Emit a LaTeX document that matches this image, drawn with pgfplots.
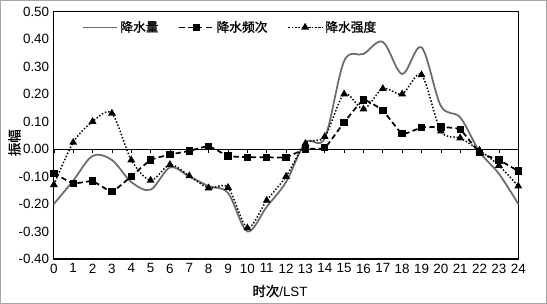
\documentclass[border=0pt]{standalone}
\usepackage{pgfplots}
\pgfplotsset{compat=1.18}
\usepackage{fontspec}
\setmainfont{Liberation Sans}
\newfontfamily\cjk{Noto Sans CJK SC}[FakeBold=1.2]
\begin{document}
\begin{tikzpicture}
\begin{axis}[
  name=ax,
  scale only axis,
  width=346.5pt, height=184.5pt,
  xmin=0, xmax=24, ymin=-0.4, ymax=0.5,
  xtick={0,...,24},
  ytick={-0.4,-0.3,...,0.5},
  major tick length=0pt,
  /pgf/number format/assume math mode=true,
  yticklabel style={/pgf/number format/.cd,fixed,fixed zerofill,precision=2},
  ticklabel style={font=\fontsize{10}{12}\selectfont},
  axis line style={black, line width=0.9pt},
  legend style={at={(0.052,0.985)}, anchor=north west, draw=none, fill=none,
    legend columns=3, font=\cjk\fontsize{9.5}{12}\selectfont,
    /tikz/every even column/.append style={column sep=13pt}},
  legend image code/.code={\draw[mark repeat=2,mark phase=2,#1] plot coordinates {(0cm,0cm) (0.44cm,0cm) (0.88cm,0cm)};},
  clip=false,
]
\draw[black, line width=0.6pt] (axis cs:0,0) -- (axis cs:24,0);
\pgfplotsinvokeforeach{0,...,24}{\draw[black, line width=0.5pt] (axis cs:#1,0) -- ([yshift=-3pt]axis cs:#1,0);}
\addplot[color=black!58, line width=1.3pt, smooth, tension=0.55, no markers] coordinates {
(0,-0.20) (1,-0.115) (2,-0.025) (3,-0.04) (4,-0.12) (5,-0.148) (6,-0.067) (7,-0.10)
(8,-0.135) (9,-0.16) (10,-0.30) (11,-0.21) (12,-0.12) (13,0.024) (14,0.04) (15,0.32)
(16,0.346) (17,0.39) (18,0.273) (19,0.37) (20,0.157) (21,0.115) (22,-0.01) (23,-0.09) (24,-0.20)};
\addlegendentry{降水量}
\addplot[color=black, line width=1.3pt, dash pattern=on 4pt off 2.5pt, smooth, tension=0.25,
  mark=square*, mark size=2.1pt, mark options={solid}] coordinates {
(0,-0.088) (1,-0.125) (2,-0.117) (3,-0.155) (4,-0.099) (5,-0.04) (6,-0.02) (7,-0.007)
(8,0.01) (9,-0.025) (10,-0.03) (11,-0.03) (12,-0.03) (13,0.0) (14,0.005) (15,0.097)
(16,0.178) (17,0.14) (18,0.056) (19,0.078) (20,0.08) (21,0.071) (22,-0.013) (23,-0.04) (24,-0.08)};
\addlegendentry{降水频次}
\addplot[color=black, line width=1.1pt, dash pattern=on 1.1pt off 1.4pt, smooth, tension=0.5,
  mark=triangle*, mark size=2.3pt, mark options={solid}] coordinates {
(0,-0.13) (1,0.024) (2,0.10) (3,0.13) (4,-0.04) (5,-0.114) (6,-0.057) (7,-0.098)
(8,-0.142) (9,-0.14) (10,-0.287) (11,-0.187) (12,-0.10) (13,0.02) (14,0.045) (15,0.20)
(16,0.145) (17,0.22) (18,0.20) (19,0.27) (20,0.065) (21,0.04) (22,-0.005) (23,-0.06) (24,-0.135)};
\addlegendentry{降水强度}
\node[rotate=90, font=\cjk\fontsize{10}{12}\selectfont] at (axis description cs:-0.085,0.47) {振幅};
\node[font=\fontsize{10}{12}\selectfont] at (axis description cs:0.487,-0.13) {{\cjk 时次}/LST};
\end{axis}
\draw[black!35, line width=0.9pt] ([shift={(-39.75pt,-33pt)}]ax.south west) rectangle ([shift={(21pt,8.25pt)}]ax.north east);
\end{tikzpicture}
\end{document}
